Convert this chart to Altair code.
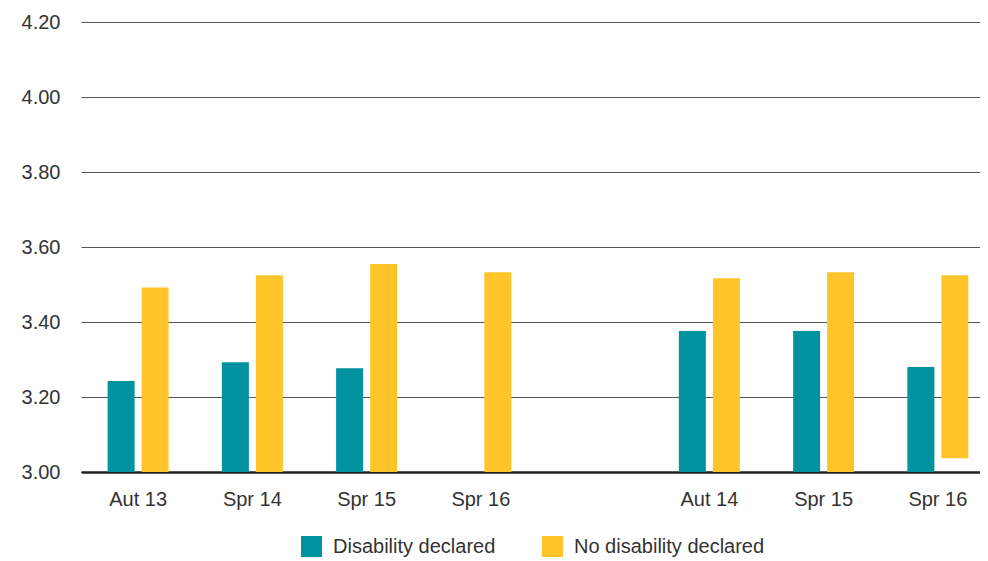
import altair as alt
import pandas as pd

keys = ["1|Aut 13", "2|Spr 14", "3|Spr 15", "4|Spr 16", "5|", "6|Aut 14", "7|Spr 15", "8|Spr 16"]
disability = [3.243, 3.293, 3.277, None, None, 3.376, 3.376, 3.280]
no_disability = [3.492, 3.525, 3.555, 3.533, None, 3.517, 3.533, 3.525]
no_disability_base = [3.0, 3.0, 3.0, 3.0, None, 3.0, 3.0, 3.037]
series = ["Disability declared", "No disability declared"]
colors = ["#00929F", "#FEC42A"]
y_ticks = [3.0, 3.2, 3.4, 3.6, 3.8, 4.0, 4.2]

rows = []
for k, d, n, b in zip(keys, disability, no_disability, no_disability_base):
    if d is not None:
        rows.append({"key": k, "series": series[0], "top": d, "base": 3.0})
    if n is not None:
        rows.append({"key": k, "series": series[1], "top": n, "base": b})
df = pd.DataFrame(rows)

chart = alt.Chart(df).mark_bar().encode(
    x=alt.X("key:N", sort=keys,
            scale=alt.Scale(domain=keys, range=[3, 917], paddingInner=0.466, paddingOuter=0.233),
            axis=alt.Axis(title=None, labelAngle=0, labelExpr="split(datum.label, '|')[1]",
                          labelFont="Liberation Sans", labelFontSize=20, labelColor="#333333",
                          labelPadding=17, ticks=False, domain=True, domainColor="#222222",
                          domainWidth=2.5, grid=False)),
    xOffset=alt.XOffset("series:N", scale=alt.Scale(domain=series, paddingInner=0.206, paddingOuter=0)),
    y=alt.Y("top:Q", scale=alt.Scale(domain=[3.0, 4.2], zero=False, nice=False),
            axis=alt.Axis(title=None, values=y_ticks, format=".2f", labelFont="Liberation Sans",
                          labelFontSize=20, labelColor="#333333", labelPadding=18, ticks=False,
                          domain=False, grid=True, gridColor="#555555", gridWidth=1.2)),
    y2="base:Q",
    color=alt.Color("series:N", scale=alt.Scale(domain=series, range=colors),
                    legend=alt.Legend(title=None, orient="none", direction="horizontal",
                                      legendX=223, legendY=514, symbolType="square",
                                      symbolSize=441, symbolStrokeWidth=0, labelFont="Liberation Sans",
                                      labelFontSize=20, labelColor="#333333", labelOffset=11,
                                      labelLimit=400, columnPadding=46, symbolOpacity=1)),
).properties(
    width=902, height=450,
    autosize=alt.AutoSizeParams(type="none"),
    padding={"left": 70, "top": 14, "right": 0, "bottom": 85},
).configure_view(stroke=None)

chart.save("out.html", embed_options={"renderer": "svg", "actions": False})
